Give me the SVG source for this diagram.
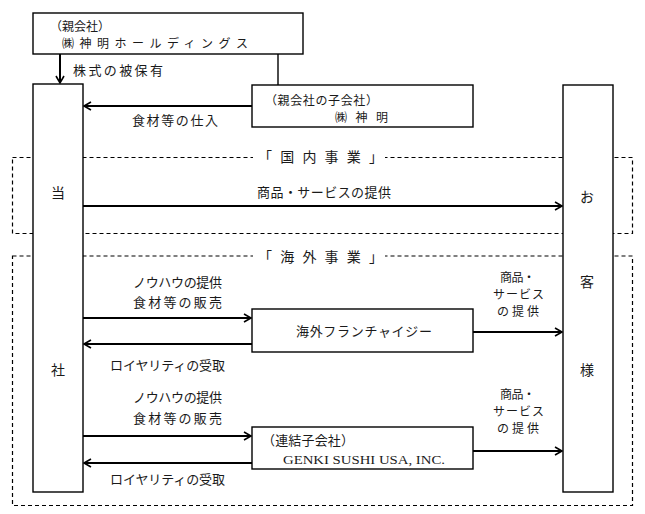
<svg xmlns="http://www.w3.org/2000/svg" width="645" height="514" viewBox="0 0 645 514">
<defs>
<style>
.box{fill:#fff;stroke:#000;stroke-width:1.4}
.frame{fill:none;stroke:#000;stroke-width:1.2;stroke-dasharray:4 3}
.ln{fill:none;stroke:#000;stroke-width:1.4}
.ar{fill:none;stroke:#000;stroke-width:2;marker-end:url(#ah)}
.t{font-family:"Noto Sans CJK JP","Liberation Serif",serif;font-size:13px;fill:#1a1a1a}
.sm{font-size:12px}
.big{font-size:14px}
.lat{font-family:"Liberation Serif","Noto Sans CJK JP",serif;font-size:13px;fill:#1a1a1a}
.c{text-anchor:middle}
</style>
<marker id="ah" markerUnits="userSpaceOnUse" markerWidth="10" markerHeight="10" refX="7" refY="4" orient="auto" overflow="visible">
<path d="M0,0 L7,4 L0,8" fill="none" stroke="#000" stroke-width="1.6"/>
</marker>
</defs>
<rect width="645" height="514" fill="#fff"/>

<g id="frame-domestic">
<rect class="frame" x="12.5" y="157.5" width="620" height="76"/>
<rect x="253" y="150" width="132" height="14" fill="#fff"/>
<text class="t big" x="258" y="162" textLength="125" lengthAdjust="spacing">「国内事業」</text>
</g>
<g id="frame-overseas">
<rect class="frame" x="12.5" y="256" width="620" height="249.5"/>
<rect x="253" y="249" width="132" height="14" fill="#fff"/>
<text class="t big" x="258" y="262" textLength="125" lengthAdjust="spacing">「海外事業」</text>
</g>

<g id="connectors">
<line class="ar" x1="60" y1="54" x2="60" y2="83"/>
<line class="ln" x1="278" y1="54" x2="278" y2="85"/>
<line class="ar" x1="252" y1="106" x2="84" y2="106"/>
<line class="ar" x1="83" y1="206" x2="562" y2="206"/>
<line class="ar" x1="83" y1="318" x2="251" y2="318"/>
<line class="ar" x1="252" y1="344" x2="84" y2="344"/>
<line class="ar" x1="473" y1="332" x2="562" y2="332"/>
<line class="ar" x1="83" y1="436" x2="251" y2="436"/>
<line class="ar" x1="252" y1="463" x2="84" y2="463"/>
<line class="ar" x1="473" y1="451" x2="562" y2="451"/>
<text class="t" x="73" y="75" textLength="90" lengthAdjust="spacing">株式の被保有</text>
<text class="t" x="132" y="125" textLength="86" lengthAdjust="spacing">食材等の仕入</text>
<text class="t" x="257" y="197" textLength="134" lengthAdjust="spacing">商品・サービスの提供</text>
<text class="t" x="133" y="287" textLength="89" lengthAdjust="spacing">ノウハウの提供</text>
<text class="t" x="133" y="307" textLength="89" lengthAdjust="spacing">食材等の販売</text>
<text class="t" x="110" y="370" textLength="115" lengthAdjust="spacing">ロイヤリティの受取</text>
<text class="t sm" x="500" y="282" textLength="35" lengthAdjust="spacing">商品・</text>
<text class="t sm" x="493" y="299" textLength="51" lengthAdjust="spacing">サービス</text>
<text class="t sm" x="497" y="316" textLength="42" lengthAdjust="spacing">の提供</text>
<text class="t" x="133" y="402" textLength="89" lengthAdjust="spacing">ノウハウの提供</text>
<text class="t" x="133" y="423" textLength="89" lengthAdjust="spacing">食材等の販売</text>
<text class="t" x="110" y="484" textLength="115" lengthAdjust="spacing">ロイヤリティの受取</text>
<text class="t sm" x="500" y="399" textLength="35" lengthAdjust="spacing">商品・</text>
<text class="t sm" x="493" y="416" textLength="51" lengthAdjust="spacing">サービス</text>
<text class="t sm" x="497" y="433" textLength="42" lengthAdjust="spacing">の提供</text>
</g>

<g id="parent-holdings">
<rect class="box" x="33" y="13" width="270" height="41"/>
<text class="t sm" x="50" y="31" textLength="60" lengthAdjust="spacing">（親会社）</text>
<text class="t sm" x="62" y="48" textLength="186" lengthAdjust="spacing">㈱神明ホールディングス</text>
</g>

<g id="shinmei">
<rect class="box" x="252" y="85" width="221" height="42"/>
<text class="t sm" x="265" y="105" textLength="113" lengthAdjust="spacing">（親会社の子会社）</text>
<text class="t sm" x="335" y="122" textLength="53" lengthAdjust="spacing">㈱神明</text>
</g>

<g id="company">
<rect class="box" x="33" y="84" width="50" height="408"/>
<text class="t big c" x="58" y="198">当</text>
<text class="t big c" x="58" y="375">社</text>
</g>

<g id="customers">
<rect class="box" x="563" y="85" width="50" height="407"/>
<text class="t big c" x="587" y="202">お</text>
<text class="t big c" x="587" y="287">客</text>
<text class="t big c" x="587" y="375">様</text>
</g>

<g id="franchisee">
<rect class="box" x="252" y="309" width="221" height="43"/>
<text class="t" x="296" y="336" textLength="136" lengthAdjust="spacing">海外フランチャイジー</text>
</g>

<g id="genki-usa">
<rect class="box" x="252" y="427" width="221" height="42"/>
<text class="t" x="262" y="445" textLength="92" lengthAdjust="spacing">（連結子会社）</text>
<text class="lat" x="283" y="464" textLength="162" lengthAdjust="spacingAndGlyphs">GENKI SUSHI USA, INC.</text>
</g>
</svg>
